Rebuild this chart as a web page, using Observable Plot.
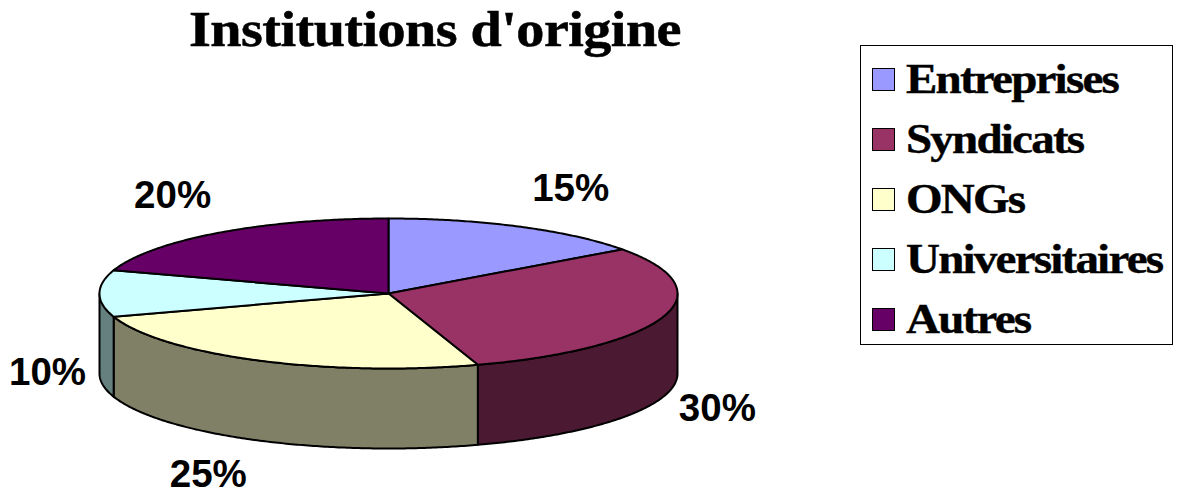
<!DOCTYPE html>
<html lang="fr"><head><meta charset="utf-8">
<script src="https://cdn.jsdelivr.net/npm/d3@7"></script>
<script src="https://cdn.jsdelivr.net/npm/@observablehq/plot@0.6"></script>
<style>
html,body{margin:0;padding:0;background:#fff}
#wrap{position:relative;width:1177px;height:495px;overflow:hidden}
#title{position:absolute;left:0;top:-1px;width:870px;margin:0;text-align:center;font:bold 50px "Liberation Serif",serif;line-height:60px;letter-spacing:-0.5px;color:#000;transform:scaleX(1.124);transform-origin:435px 0;-webkit-text-stroke:0.5px #000}
#legend{position:absolute;left:860px;top:45px;width:311px;height:298px;border:1.5px solid #000;box-sizing:content-box;font:bold 42px "Liberation Serif",serif;letter-spacing:-1.6px;color:#000}
.row{position:absolute;left:0;height:60px;line-height:60px;white-space:nowrap}
.sw{position:absolute;left:11px;top:19px;width:21px;height:21px;border:1.5px solid #000}
.lb{position:absolute;left:45px;top:0;transform:scaleX(1.12);transform-origin:0 0;-webkit-text-stroke:0.4px #000}
</style></head><body>
<div id="wrap"><h1 id="title">Institutions d'origine</h1><div id="legend"></div></div>
<script>
const categories = ["Entreprises","Syndicats","ONGs","Universitaires","Autres"];
const shares = [15,30,25,10,20];
const topColors = ["#9999ff","#993366","#ffffcc","#ccffff","#660066"];
const sideColors = ["#4c4c80","#4c1933","#808066","#668080","#330033"];
const labelDx = [51,54,-49,-52,-46];
const labelDy = [-38,92,114,79,-37];

// pie units: horizontal and vertical radii both 1, flattened by the y scale
const W = 1177, H = 495, cx = 388, cy = 293, rx = 289, ry = 75, depth = 80/75;
const rim = (t, d = 0) => ({x: Math.sin(t), y: -Math.cos(t) + d});
const rad = p => p / 100 * 2 * Math.PI;
const arc = (a, b, d = 0) => {
  const n = Math.max(2, Math.ceil((b - a) / 0.01));
  return d3.range(n + 1).map(i => rim(a + (b - a) * i / n, d));
};
let cum = 0;
const slices = categories.map((name, i) => {
  const a = rad(cum); cum += shares[i]; const b = rad(cum);
  return {name, a, b, mid: (a + b) / 2, share: shares[i], top: topColors[i], side: sideColors[i]};
});
const tops = slices.flatMap(s =>
  [{x:0,y:0}, ...arc(s.a, s.b), {x:0,y:0}].map(p => ({...p, name: s.name, color: s.top})));
const sides = slices.flatMap(s => {
  const a = Math.max(s.a, Math.PI / 2), b = Math.min(s.b, 3 * Math.PI / 2);
  if (a >= b) return [];
  const t = arc(a, b), u = arc(a, b, depth).reverse();
  return [...t, ...u, t[0]].map(p => ({...p, name: s.name, color: s.side}));
});
const poly = data => Plot.line(data, {x:"x", y:"y", z:"name", fill:"color", stroke:"#000", strokeWidth:2, strokeLinejoin:"round", curve:"linear"});
const labels = slices.map((s, i) => {
  const p = rim(s.mid);
  return Plot.text([{...p, t: s.share + "%"}], {x:"x", y:"y", text:"t", dx: labelDx[i], dy: labelDy[i],
    fontFamily:"Liberation Sans", fontWeight:"bold", fontSize:38.5, fill:"#000", textAnchor:"middle"});
});
const chart = Plot.plot({
  width: W, height: H, margin: 0,
  x: {domain: [-cx / rx, (W - cx) / rx], range: [0, W], axis: null},
  y: {domain: [-cy / ry, (H - cy) / ry], range: [0, H], axis: null},
  color: {type: "identity"},
  marks: [poly(sides), poly(tops), ...labels]
});
chart.style.display = "block";
chart.style.background = "transparent";
const wrap = document.getElementById("wrap");
wrap.insertBefore(chart, wrap.firstChild);
const legend = document.getElementById("legend");
categories.forEach((c, i) => {
  const r = document.createElement("div");
  r.className = "row"; r.style.top = (3 + i * 60) + "px";
  r.innerHTML = `<span class="sw" style="background:${topColors[i]}"></span><span class="lb">${c}</span>`;
  legend.appendChild(r);
});
</script></body></html>
